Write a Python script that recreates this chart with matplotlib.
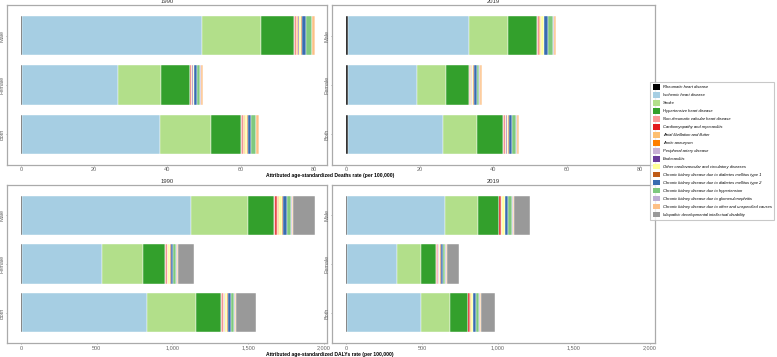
import numpy as np
import matplotlib.pyplot as plt
from matplotlib.patches import Patch

causes = ['Rheumatic heart disease', 'Ischemic heart disease', 'Stroke',
          'Hypertensive heart disease', 'Non-rheumatic valvular heart disease',
          'Cardiomyopathy and myocarditis', 'Atrial fibrillation and flutter',
          'Aortic aneurysm', 'Peripheral artery disease', 'Endocarditis',
          'Other cardiovascular and circulatory diseases',
          'Chronic kidney disease due to diabetes mellitus type 1',
          'Chronic kidney disease due to diabetes mellitus type 2',
          'Chronic kidney disease due to hypertension',
          'Chronic kidney disease due to glomerulonephritis',
          'Chronic kidney disease due to other and unspecified causes',
          'Idiopathic developmental intellectual disability']
colors = ['#000000', '#A6CEE3', '#B2DF8A', '#33A02C', '#FB9A99', '#E31A1C',
          '#FDBF6F', '#FF7F00', '#CAB2D6', '#6A3D9A', '#FFFF99', '#BF5B17',
          '#386CB0', '#7FC97F', '#BEAED4', '#FDC086', '#999999']
sexes = ['Male', 'Female', 'Both']

# deaths rate per 100,000 (order follows causes)
deaths_1990_male = [0.4, 49.0, 16.2, 8.9, 0.2, 0.5, 0.3, 0.1, 0.1, 0.1, 0.7, 0.2, 1.2, 1.5, 0.2, 0.6, 0]
deaths_1990_female = [0.4, 26.1, 11.7, 7.9, 0.15, 0.25, 0.2, 0.05, 0.05, 0.05, 0.4, 0.1, 0.8, 0.8, 0.15, 0.5, 0]
deaths_1990_both = [0.4, 37.5, 14.0, 8.3, 0.2, 0.35, 0.25, 0.08, 0.07, 0.07, 0.55, 0.15, 1.0, 1.2, 0.18, 0.6, 0]
deaths_2019_male = [0.3, 33.1, 10.7, 7.9, 0.2, 0.4, 0.3, 0.1, 0.05, 0.1, 0.6, 0.15, 1.1, 1.3, 0.2, 0.5, 0]
deaths_2019_female = [0.3, 18.8, 8.0, 6.3, 0.15, 0.25, 0.2, 0.05, 0.05, 0.05, 0.4, 0.1, 0.8, 0.8, 0.15, 0.5, 0]
deaths_2019_both = [0.3, 26.1, 9.3, 7.0, 0.18, 0.32, 0.25, 0.08, 0.05, 0.07, 0.5, 0.12, 0.95, 1.1, 0.18, 0.5, 0]

# DALYs rate per 100,000
dalys_1990_male = [10, 1113, 374, 176, 5, 14, 6, 3, 1, 3, 18, 5, 25, 28, 6, 11, 144]
dalys_1990_female = [10, 523, 275, 145, 3, 9, 4, 2, 1, 2, 12, 3, 17, 18, 4, 7, 110]
dalys_1990_both = [10, 822, 326, 163, 4, 11, 5, 2, 1, 2, 14, 4, 20, 23, 5, 8, 130]
dalys_2019_male = [6, 643, 218, 137, 4, 11, 5, 2, 1, 2, 14, 4, 21, 23, 5, 9, 104]
dalys_2019_female = [6, 326, 161, 99, 3, 8, 3, 1, 1, 1, 10, 3, 14, 16, 3, 7, 82]
dalys_2019_both = [6, 487, 191, 117, 3, 9, 4, 2, 1, 2, 12, 3, 18, 20, 4, 8, 95]

panels = [
    ('1990', [deaths_1990_male, deaths_1990_female, deaths_1990_both], [0.009, 0.538, 0.412, 0.448], (-3.8, 83.6), [0, 20, 40, 60, 80]),
    ('2019', [deaths_2019_male, deaths_2019_female, deaths_2019_both], [0.427, 0.538, 0.416, 0.448], (-4.0, 84.1), [0, 20, 40, 60, 80]),
    ('1990', [dalys_1990_male, dalys_1990_female, dalys_1990_both], [0.009, 0.039, 0.412, 0.443], (-92, 2021), [0, 500, 1000, 1500, 2000]),
    ('2019', [dalys_2019_male, dalys_2019_female, dalys_2019_both], [0.427, 0.039, 0.416, 0.443], (-97, 2036), [0, 500, 1000, 1500, 2000]),
]

fig = plt.figure(figsize=(7.77, 3.57), dpi=100)
plt.rcParams['font.family'] = ['Liberation Sans', 'DejaVu Sans']

for i, (title, rows, pos, xlim, ticks) in enumerate(panels):
    ax = fig.add_axes(pos)
    y = np.arange(len(sexes))
    vals = np.array(rows)
    left = np.zeros(len(sexes))
    for j in range(len(causes)):
        ax.barh(y, vals[:, j], left=left, height=0.8, color=colors[j],
                edgecolor='white', linewidth=0.3)
        left += vals[:, j]
    ax.set_ylim(2.62, -0.62)
    ax.set_xlim(*xlim)
    ax.set_xticks(ticks)
    ax.set_xticklabels([f'{t:,}' for t in ticks])
    ax.set_yticks(y)
    ax.set_yticklabels(sexes, rotation=90, va='center')
    ax.tick_params(labelsize=4, colors='#666666', length=0.8, width=0.4, pad=1.0)
    ax.tick_params(axis='y', pad=0.8)
    for s in ax.spines.values():
        s.set_color('#aaaaaa')
        s.set_linewidth(0.9)
    ax.set_title(title, fontsize=4.2, color='#333333', pad=1.2)

fig.text(0.425, 0.508, 'Attributed age-standardized Deaths rate (per 100,000)',
         ha='center', va='center', fontsize=3.6, fontweight='bold')
fig.text(0.425, 0.008, 'Attributed age-standardized DALYs rate (per 100,000)',
         ha='center', va='center', fontsize=3.6, fontweight='bold')

handles = [Patch(facecolor=c, edgecolor='none') for c in colors]
leg = fig.legend(handles, causes, loc='upper left', bbox_to_anchor=(0.837, 0.771),
                 frameon=True, handlelength=1.8, handleheight=1.7,
                 labelspacing=0.56, handletextpad=0.6, borderpad=0.6,
                 borderaxespad=0, prop={'style': 'italic', 'size': 3.0},
                 fancybox=False)
leg.get_frame().set_edgecolor('#bbbbbb')
leg.get_frame().set_linewidth(0.8)

fig.savefig('out.png', dpi=100, facecolor='white')
